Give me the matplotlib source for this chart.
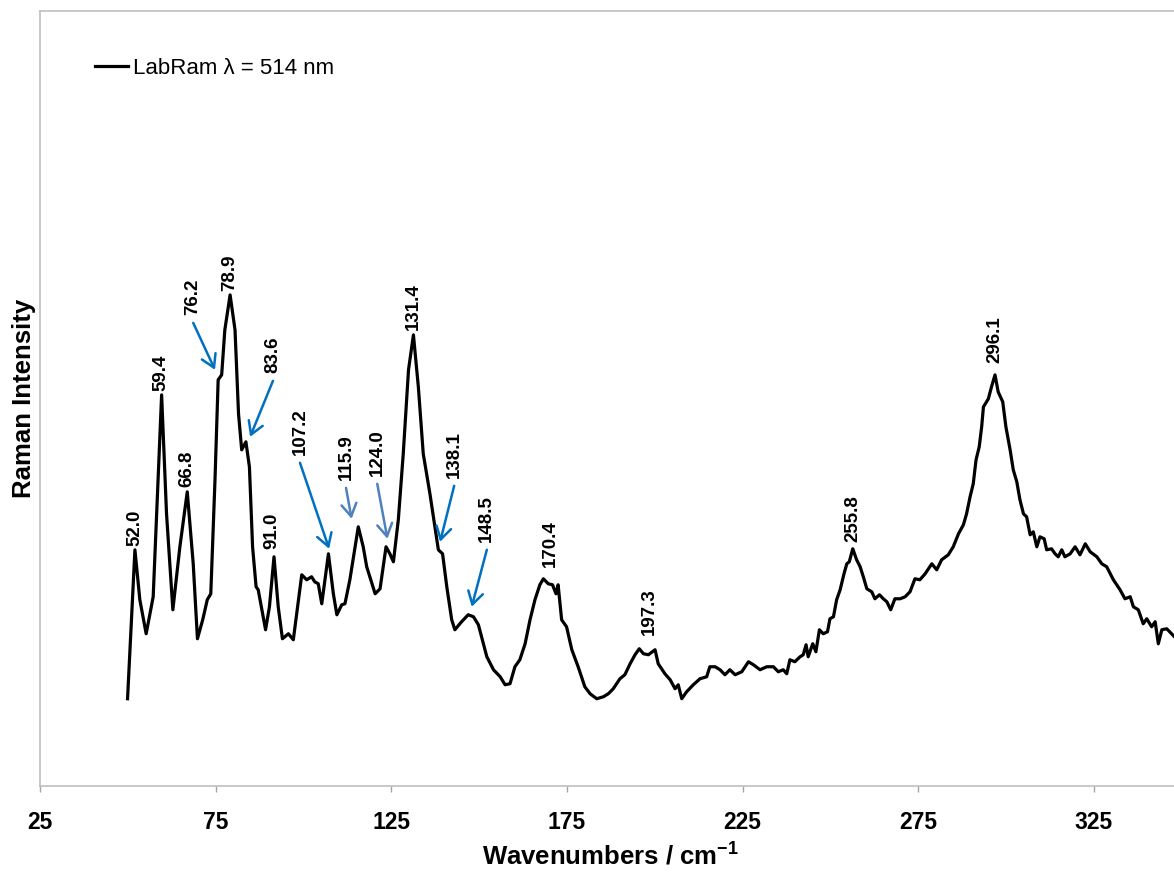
import matplotlib
import matplotlib.pyplot as plt

matplotlib.use("Agg")

plt.rcParams['font.family'] = ['Liberation Sans', 'DejaVu Sans']
plt.rcParams['mathtext.fontset'] = 'custom'
plt.rcParams['mathtext.rm'] = 'Liberation Sans'
plt.rcParams['mathtext.bf'] = 'Liberation Sans:bold'
plt.rcParams['mathtext.default'] = 'bf'

# Spectrum (wavenumber in cm-1, intensity in arbitrary units)
wavenumber = [
    49.9, 52.0, 53.4, 55.2, 57.2, 59.6, 61.0, 62.8, 64.8, 66.9,
    68.6, 69.8, 71.3, 72.6, 73.6, 74.8, 75.7, 76.7, 77.6, 79.1,
    80.5, 81.5, 82.4, 83.6, 84.6, 85.5, 86.5, 87.1, 89.2, 90.3,
    91.6, 92.8, 94.0, 95.7, 97.1, 99.5, 100.9, 102.3, 103.2, 104.2,
    105.2, 107.1, 108.5, 109.5, 110.9, 111.8, 113.2, 115.6, 117.0, 118.0,
    118.9, 120.4, 121.8, 123.5, 124.6, 125.6, 127.0, 128.4, 129.9, 131.3,
    132.7, 134.1, 136.0, 137.4, 138.4, 139.6, 140.8, 142.2, 143.1, 145.0,
    146.9, 148.4, 149.8, 150.7, 152.2, 154.1, 156.0, 157.4, 158.8, 160.2,
    161.6, 163.1, 164.5, 165.9, 167.3, 168.3, 169.7, 170.9, 171.9, 172.5,
    173.5, 174.9, 176.4, 178.2, 180.1, 181.6, 183.5, 185.4, 186.8, 188.2,
    190.1, 191.5, 193.0, 194.4, 195.6, 196.8, 198.2, 200.1, 201.0, 202.9,
    204.4, 205.8, 206.7, 207.7, 209.1, 211.0, 212.9, 214.8, 215.7, 217.2,
    218.6, 220.0, 221.4, 222.9, 224.8, 226.7, 228.1, 230.0, 231.9, 233.8,
    235.2, 236.6, 237.6, 238.5, 239.9, 241.4, 242.3, 243.1, 243.7, 245.0,
    245.9, 246.9, 248.0, 249.2, 249.9, 250.9, 251.8, 252.8, 253.9, 254.7,
    255.4, 256.4, 257.5, 258.5, 259.4, 260.4, 261.8, 262.7, 264.0, 265.1,
    266.1, 267.2, 268.4, 269.9, 271.3, 272.7, 274.1, 275.5, 277.0, 278.9,
    280.3, 281.7, 283.6, 285.0, 286.5, 287.9, 288.8, 289.8, 290.7, 291.5,
    292.4, 293.1, 293.6, 295.0, 295.9, 296.9, 297.8, 299.1, 300.0, 301.2,
    302.1, 303.1, 304.0, 305.0, 305.9, 306.9, 307.8, 308.8, 309.7, 310.9,
    311.6, 313.0, 314.0, 314.9, 315.9, 316.8, 318.3, 319.7, 321.1, 322.6,
    324.0, 325.9, 327.3, 328.7, 330.6, 332.5, 333.9, 335.4, 336.3, 337.7,
    339.1, 340.1, 341.5, 342.5, 343.4, 344.4, 345.8, 347.2, 348.0,
]
intensity = [
    87, 236, 186, 152, 189, 391, 272, 176, 239, 294,
    222, 147, 166, 186, 192, 306, 406, 411, 456, 491,
    456, 372, 336, 344, 319, 239, 199, 196, 156, 179,
    229, 179, 147, 152, 146, 211, 206, 209, 204, 202,
    182, 232, 192, 171, 181, 182, 206, 259, 239, 219,
    209, 192, 197, 239, 232, 224, 266, 332, 416, 451,
    399, 332, 292, 259, 236, 232, 199, 166, 156, 164,
    171, 169, 161, 149, 129, 116, 109, 101, 102, 119,
    126, 142, 166, 186, 201, 207, 202, 201, 192, 201,
    166, 159, 136, 119, 99, 92, 87, 89, 92, 97,
    107, 111, 122, 131, 137, 132, 131, 136, 122, 112,
    106, 97, 101, 87, 94, 101, 107, 109, 119, 119,
    116, 111, 116, 111, 114, 124, 121, 116, 119, 119,
    114, 116, 112, 126, 124, 129, 131, 141, 129, 142,
    134, 156, 152, 154, 167, 169, 186, 196, 212, 222,
    224, 237, 226, 219, 209, 197, 194, 187, 191, 187,
    184, 176, 187, 187, 189, 194, 207, 206, 212, 222,
    216, 226, 231, 239, 252, 261, 272, 289, 302, 326,
    339, 359, 379, 387, 399, 411, 394, 384, 359, 336,
    316, 304, 286, 272, 269, 251, 254, 239, 249, 247,
    236, 237, 232, 229, 236, 229, 232, 239, 231, 242,
    234, 229, 222, 219, 206, 196, 187, 189, 179, 176,
    162, 167, 159, 164, 142, 156, 157, 152, 149,
]

# Peak labels placed right above their peaks
peak_labels = ["52.0", "59.4", "66.8", "78.9", "91.0", "131.4", "170.4", "197.3", "255.8", "296.1"]
peak_label_x = [52.0, 59.4, 66.8, 78.9, 91.0, 131.4, 170.4, 198.4, 256.4, 296.9]
peak_label_y = [240, 395, 299, 495, 237, 456, 219, 151, 244, 423]

# Peak labels with an arrow pointing at a shoulder
arrow_labels = ["76.2", "83.6", "107.2", "115.9", "124.0", "138.1", "148.5"]
arrow_text_x = [68.6, 91.3, 99.0, 112.1, 121.0, 142.9, 152.2]
arrow_text_y = [471, 413, 331, 306, 310, 308, 244]
arrow_tip_x = [74.8, 84.8, 107.3, 113.7, 123.9, 138.9, 147.9]
arrow_tip_y = [416, 349, 237, 267, 247, 244, 179]
arrow_colors = ["#0070C0", "#0070C0", "#0070C0", "#4F81BD", "#4F81BD", "#0070C0", "#0070C0"]

fig = plt.figure(figsize=(11.74, 8.73), dpi=100)
ax = fig.add_axes([40.1 / 1174, 87.3 / 873, 1141.4 / 1174, 774.7 / 873])

ax.plot(wavenumber, intensity, color="black", lw=2.3, solid_joinstyle="round",
        label="LabRam λ = 514 nm")

for lab, x, y in zip(peak_labels, peak_label_x, peak_label_y):
    ax.text(x, y, lab, rotation=90, ha="center", va="bottom",
            fontsize=13.5, fontweight="bold")

for lab, tx, ty, px, py, c in zip(arrow_labels, arrow_text_x, arrow_text_y,
                                  arrow_tip_x, arrow_tip_y, arrow_colors):
    ax.text(tx, ty, lab, rotation=90, ha="center", va="bottom",
            fontsize=13.5, fontweight="bold")
    ax.annotate("", xy=(px, py), xytext=(tx, ty - 8),
                arrowprops=dict(arrowstyle="->,head_length=0.5,head_width=0.3",
                                color=c, lw=1.8, mutation_scale=18,
                                shrinkA=0, shrinkB=0))

ax.set_xlim(25, 350)
ax.set_ylim(0, 775)
ax.set_xticks([25, 75, 125, 175, 225, 275, 325])
ax.set_yticks([])
ax.tick_params(axis="x", length=4.5, width=1, color="#A6A6A6", pad=14,
               labelsize=16.5)
for t in ax.get_xticklabels():
    t.set_fontweight("bold")

for side in ["left", "bottom", "top"]:
    ax.spines[side].set_color("#BFBFBF")
    ax.spines[side].set_linewidth(1.2)
ax.spines["right"].set_visible(False)

ax.set_xlabel(r"Wavenumbers / cm$^{-1}$", fontsize=18.5, fontweight="bold", labelpad=6)
ax.set_ylabel("Raman Intensity", fontsize=18.5, fontweight="bold")
ax.yaxis.set_label_coords(-0.0141, 0.5)
ax.yaxis.label.set_va("center")

ax.legend(loc="upper left", bbox_to_anchor=(0.0481, 0.9393), frameon=False,
          borderpad=0, borderaxespad=0, handlelength=1.5, handletextpad=0.2,
          fontsize=16)

fig.savefig("out.png", dpi=100)
